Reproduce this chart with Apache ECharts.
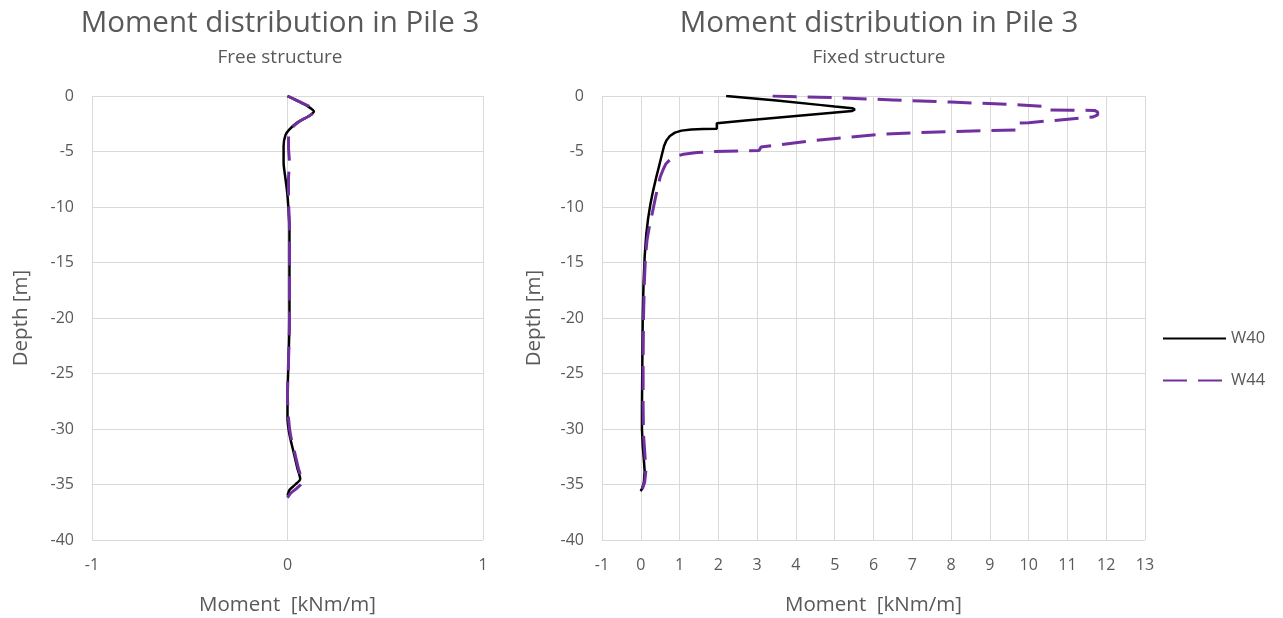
<!DOCTYPE html>
<html>
<head>
<meta charset="utf-8">
<script src="https://cdn.jsdelivr.net/npm/echarts@6/dist/echarts.min.js"></script>
<style>
  html, body { margin: 0; padding: 0; background: #ffffff; }
  #chart { width: 1283px; height: 618px; }
</style>
</head>
<body>
<div id="chart"></div>
<script>
// Free structure: depth [m] and moment [kNm/m]
const freeDepthW40 = [0, -0.5, -1.0, -1.4, -1.8, -2.4, -3.0, -3.5, -4.5, -6.0, -7.5, -9, -12, -16, -20, -24, -27, -29, -30.5, -32, -33.5, -34.5, -35, -35.5, -36];
const freeW40      = [0, 0.06, 0.11, 0.135, 0.11, 0.05, 0.01, -0.01, -0.02, -0.02, -0.01, 0.0, 0.01, 0.01, 0.01, 0.005, 0.0, 0.0, 0.01, 0.03, 0.05, 0.065, 0.04, 0.01, 0.0];
const freeDepthW44 = [0, -0.5, -1.0, -1.3, -1.7, -2.3, -3.0, -3.6, -4.6, -6.0, -7.5, -9, -12, -16, -20, -24, -27, -29, -30.5, -32, -33.5, -34.8, -35.3, -35.8, -36.2];
const freeW44      = [0, 0.06, 0.12, 0.14, 0.12, 0.06, 0.015, 0.005, 0.005, 0.01, 0.005, 0.005, 0.01, 0.01, 0.01, 0.005, 0.0, 0.005, 0.015, 0.035, 0.055, 0.075, 0.05, 0.015, 0.0];

// Fixed structure: depth [m] and moment [kNm/m]
const fixedDepthW40 = [0, -0.4, -0.8, -0.95, -1.1, -1.2, -1.35, -1.8, -2.2, -2.45, -2.95, -2.98, -3.02, -3.12, -3.3, -3.6, -4.0, -4.5, -5.2, -6.2, -7.3, -8.5, -9.7, -11, -12.5, -14.5, -17, -20, -24, -28, -30, -31.5, -32.8, -33.8, -34.8, -35.3, -35.6];
const fixedW40      = [2.2, 3.5, 4.6, 5.0, 5.45, 5.52, 5.45, 4.0, 2.7, 1.96, 1.96, 1.6, 1.3, 1.05, 0.88, 0.75, 0.66, 0.6, 0.55, 0.48, 0.4, 0.32, 0.25, 0.19, 0.14, 0.1, 0.07, 0.05, 0.04, 0.03, 0.03, 0.05, 0.08, 0.1, 0.08, 0.04, 0.0];
const fixedDepthW44 = [0, -0.15, -0.35, -0.55, -0.8, -0.95, -1.25, -1.3, -1.45, -1.7, -1.9, -2.4, -2.45, -3.05, -3.2, -3.42, -4.0, -4.6, -4.9, -4.95, -5.0, -5.1, -5.25, -5.45, -5.75, -6.1, -6.6, -7.3, -8.2, -9.3, -10.5, -11.8, -13, -14.5, -17, -20, -24, -28, -30.5, -32.5, -33.8, -34.8, -35.4];
const fixedW44      = [3.4, 5.0, 6.5, 8.0, 9.8, 10.4, 10.45, 11.7, 11.78, 11.78, 11.65, 10.0, 9.7, 9.7, 8.0, 6.3, 4.5, 3.1, 3.05, 2.5, 1.9, 1.45, 1.1, 0.9, 0.75, 0.65, 0.58, 0.5, 0.44, 0.37, 0.3, 0.22, 0.16, 0.12, 0.09, 0.07, 0.06, 0.06, 0.07, 0.11, 0.13, 0.1, 0.04];

const seriesNames = ['W40', 'W44'];
const depthTicks = { min: -40, max: 0, interval: 5 };
const freeMoment = { min: -1, max: 1, interval: 1 };
const fixedMoment = { min: -1, max: 13, interval: 1 };

const pairs = (xs, ys) => xs.map((x, i) => [x, ys[i]]);

const FONT = '"Open Sans", "Noto Sans", sans-serif';
const GREY = '#595959';
const GRID_COLOR = '#d9d9d9';
const BLACK = '#000000';
const PURPLE = '#7030a0';

function xAxisFor(range, gridIndex) {
  return {
    type: 'value', gridIndex,
    min: range.min, max: range.max, interval: range.interval,
    name: 'Moment  [kNm/m]', nameLocation: 'middle', nameGap: 55,
    nameTextStyle: { color: GREY, fontSize: 20.5, fontFamily: FONT },
    axisLine: { show: false }, axisTick: { show: false },
    axisLabel: { color: GREY, fontSize: 16, fontFamily: FONT, margin: 17 },
    splitLine: { show: true, lineStyle: { color: GRID_COLOR, width: 1 } }
  };
}
function yAxisFor(gridIndex, gap) {
  return {
    type: 'value', gridIndex,
    min: depthTicks.min, max: depthTicks.max, interval: depthTicks.interval,
    name: 'Depth [m]', nameLocation: 'middle', nameGap: gap, nameRotate: 90,
    nameTextStyle: { color: GREY, fontSize: 20.5, fontFamily: FONT },
    axisLine: { show: false }, axisTick: { show: false },
    axisLabel: { color: GREY, fontSize: 16, fontFamily: FONT, margin: 18 },
    splitLine: { show: true, lineStyle: { color: GRID_COLOR, width: 1 } }
  };
}
const solid = { color: BLACK, width: 2.5, type: 'solid' };
const dashed = { color: PURPLE, width: 3, type: [24, 11] };

function lineSeries(name, data, gi, style, smooth) {
  return {
    name, type: 'line', data, xAxisIndex: gi, yAxisIndex: gi,
    showSymbol: false, symbol: 'none', smooth,
    itemStyle: { color: style.color },
    lineStyle: style, animation: false, z: name === 'W44' ? 3 : 2
  };
}

const chart = echarts.init(document.getElementById('chart'), null, { renderer: 'canvas' });
chart.setOption({
  backgroundColor: '#ffffff',
  animation: false,
  title: [
    { text: 'Moment distribution in Pile 3', left: 275, top: 4, textAlign: 'center',
      textStyle: { color: GREY, fontSize: 29.5, fontWeight: 'normal', fontFamily: FONT } },
    { text: 'Free structure', left: 275, top: 43, textAlign: 'center',
      textStyle: { color: GREY, fontSize: 19, fontWeight: 'normal', fontFamily: FONT } },
    { text: 'Moment distribution in Pile 3', left: 874, top: 4, textAlign: 'center',
      textStyle: { color: GREY, fontSize: 29.5, fontWeight: 'normal', fontFamily: FONT } },
    { text: 'Fixed structure', left: 874, top: 43, textAlign: 'center',
      textStyle: { color: GREY, fontSize: 19, fontWeight: 'normal', fontFamily: FONT } }
  ],
  legend: {
    data: seriesNames, orient: 'vertical', left: 1157, top: 325,
    itemWidth: 63, itemHeight: 14, itemGap: 25,
    itemStyle: { color: 'transparent', borderColor: 'transparent', borderWidth: 0 },
    textStyle: { color: GREY, fontSize: 16.5, fontFamily: FONT }
  },
  grid: [
    { left: 92, top: 96, width: 391, height: 444, outerBoundsMode: 'none' },
    { left: 602, top: 96, width: 543, height: 444, outerBoundsMode: 'none' }
  ],
  xAxis: [xAxisFor(freeMoment, 0), xAxisFor(fixedMoment, 1)],
  yAxis: [yAxisFor(0, 60), yAxisFor(1, 57)],
  series: [
    lineSeries('W40', pairs(freeW40, freeDepthW40), 0, solid, 0.25),
    lineSeries('W44', pairs(freeW44, freeDepthW44), 0, dashed, 0.25),
    lineSeries('W40', pairs(fixedW40, fixedDepthW40), 1, solid, false),
    lineSeries('W44', pairs(fixedW44, fixedDepthW44), 1, dashed, false)
  ]
});
</script>
</body>
</html>
